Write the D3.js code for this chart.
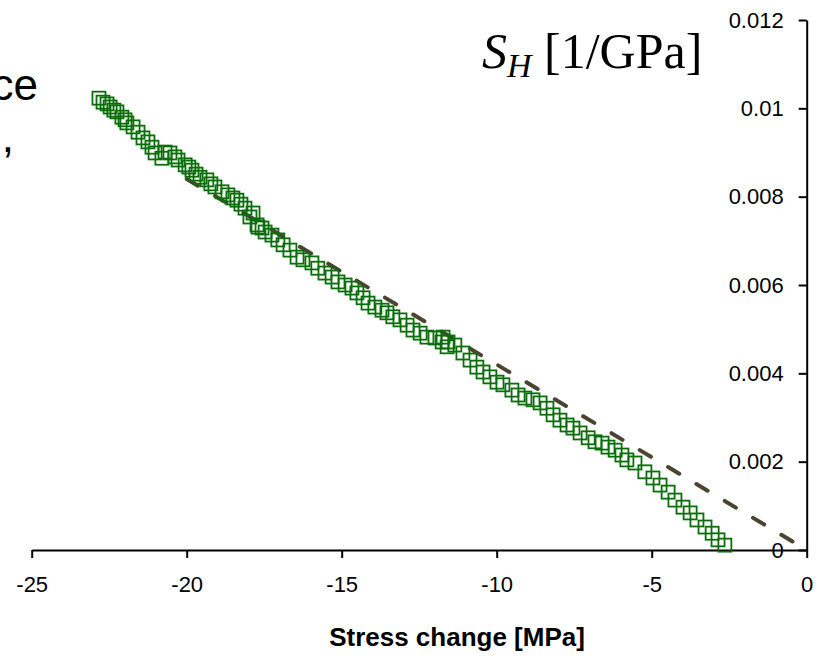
<!DOCTYPE html>
<html>
<head>
<meta charset="utf-8">
<script src="https://cdn.jsdelivr.net/npm/d3@7"></script>
<style>
  body { margin: 0; background: #fff; }
  svg { display: block; }
  .tick text { font-family: "Liberation Sans", Arial, sans-serif; fill: #000; }
</style>
</head>
<body>
<div id="chart"></div>
<script>
var svgWidth = 818;
var svgHeight = 659;

// stress change [MPa] and S_H [1/GPa]
var stressChange = [
  -22.83, -22.70, -22.57, -22.47, -22.35, -22.25, -22.09, -21.99, -21.93, -21.73,
  -21.57, -21.41, -21.25, -21.12, -21.02, -20.80, -20.70, -20.54, -20.38, -20.28,
  -20.05, -19.93, -19.83, -19.70, -19.57, -19.35, -19.22, -19.09, -18.86, -18.67,
  -18.51, -18.38, -18.25, -18.12, -17.96, -17.86, -17.73, -17.70, -17.57, -17.47,
  -17.25, -17.06, -16.89, -16.67, -16.44, -16.25, -15.96, -15.77, -15.54, -15.31,
  -15.12, -14.89, -14.67, -14.51, -14.31, -14.15, -13.93, -13.70, -13.54, -13.35,
  -13.12, -12.89, -12.70, -12.47, -12.25, -11.99, -11.76, -11.73, -11.60, -11.57,
  -11.35, -11.09, -10.86, -10.64, -10.44, -10.22, -9.99, -9.80, -9.51, -9.31,
  -9.09, -8.83, -8.60, -8.38, -8.18, -7.96, -7.73, -7.54, -7.31, -7.05,
  -6.83, -6.60, -6.41, -6.18, -5.96, -5.80, -5.54, -5.22, -4.96, -4.73,
  -4.47, -4.25, -3.99, -3.76, -3.54, -3.28, -3.05, -2.86, -2.64
];
var shValues = [
  0.01023, 0.01014, 0.01010, 0.01003, 0.00996, 0.00992, 0.00980, 0.00974, 0.00967, 0.00958,
  0.00946, 0.00933, 0.00924, 0.00912, 0.00899, 0.00887, 0.00901, 0.00899, 0.00890, 0.00883,
  0.00872, 0.00867, 0.00860, 0.00851, 0.00844, 0.00838, 0.00829, 0.00822, 0.00811, 0.00804,
  0.00797, 0.00792, 0.00783, 0.00774, 0.00754, 0.00763, 0.00736, 0.00731, 0.00729, 0.00720,
  0.00713, 0.00702, 0.00691, 0.00679, 0.00663, 0.00657, 0.00650, 0.00638, 0.00627, 0.00618,
  0.00607, 0.00600, 0.00593, 0.00582, 0.00571, 0.00559, 0.00550, 0.00543, 0.00537, 0.00528,
  0.00521, 0.00509, 0.00498, 0.00491, 0.00482, 0.00480, 0.00471, 0.00482, 0.00460, 0.00471,
  0.00464, 0.00446, 0.00430, 0.00414, 0.00403, 0.00392, 0.00380, 0.00374, 0.00362, 0.00351,
  0.00344, 0.00340, 0.00333, 0.00321, 0.00306, 0.00294, 0.00283, 0.00276, 0.00265, 0.00254,
  0.00245, 0.00242, 0.00233, 0.00226, 0.00215, 0.00204, 0.00197, 0.00177, 0.00163, 0.00147,
  0.00131, 0.00113, 0.00097, 0.00084, 0.00068, 0.00052, 0.00038, 0.00023, 0.00011
];

// dashed linear fit
var fitX = [-20, 0];
var fitY = [0.0084, 0];

var xTickValues = [-25, -20, -15, -10, -5, 0];
var xTickLabels = ["-25", "-20", "-15", "-10", "-5", "0"];
var yTickValues = [0, 0.002, 0.004, 0.006, 0.008, 0.01, 0.012];
var yTickLabels = ["0", "0.002", "0.004", "0.006", "0.008", "0.01", "0.012"];

var svg = d3.select("#chart")
  .append("svg")
  .attr("width", svgWidth)
  .attr("height", svgHeight);

var x = d3.scaleLinear().domain([-25, 0]).range([31.7, 806.7]);
var y = d3.scaleLinear().domain([0, 0.012]).range([550, 20]);

// x axis
var xAxis = svg.append("g")
  .attr("transform", `translate(0, ${y(0)})`)
  .call(d3.axisBottom(x)
    .tickValues(xTickValues)
    .tickFormat((d, i) => xTickLabels[i])
    .tickSizeInner(8)
    .tickSizeOuter(0)
    .tickPadding(18));
xAxis.selectAll("path, line").attr("stroke", "#000").attr("stroke-width", 2);
xAxis.selectAll("text").attr("font-size", 22);

// y axis on the right edge, ticks pointing left
var yAxis = svg.append("g")
  .attr("transform", `translate(${x(0)}, 0)`)
  .call(d3.axisLeft(y)
    .tickValues(yTickValues)
    .tickFormat((d, i) => yTickLabels[i])
    .tickSizeInner(8)
    .tickSizeOuter(0)
    .tickPadding(15));
yAxis.selectAll("path, line").attr("stroke", "#000").attr("stroke-width", 2);
yAxis.selectAll("text").attr("font-size", 22);

// fit line
var fitData = fitX.map((d, i) => [d, fitY[i]]);
svg.append("path")
  .datum(fitData)
  .attr("d", d3.line().x(d => x(d[0])).y(d => y(d[1])))
  .attr("fill", "none")
  .attr("stroke", "#4a4430")
  .attr("stroke-width", 4)
  .attr("stroke-linecap", "round")
  .attr("stroke-dasharray", "13,20");

// square markers
var pts = stressChange.map((d, i) => [d, shValues[i]]);
var sq = 13;
svg.append("g").selectAll("rect")
  .data(pts)
  .enter()
  .append("rect")
  .attr("x", d => x(d[0]) - sq / 2)
  .attr("y", d => y(d[1]) - sq / 2)
  .attr("width", sq)
  .attr("height", sq)
  .attr("fill", "none")
  .attr("stroke", "#0a6e0a")
  .attr("stroke-width", 1.8);

// axis title
svg.append("text")
  .attr("x", 457)
  .attr("y", 646)
  .attr("text-anchor", "middle")
  .attr("font-family", "Liberation Sans, Arial, sans-serif")
  .attr("font-weight", "bold")
  .attr("font-size", 26)
  .text("Stress change [MPa]");

// y label S_H [1/GPa]
var yLabel = svg.append("text")
  .attr("x", 482)
  .attr("y", 68)
  .attr("font-family", "Liberation Serif, Times New Roman, serif")
  .attr("font-size", 50);
yLabel.append("tspan").attr("font-style", "italic").text("S");
yLabel.append("tspan").attr("font-style", "italic").attr("font-size", 34).attr("dy", 9).text("H");
yLabel.append("tspan").attr("dy", -9).text(" [1/GPa]");

// text cut off at the left edge of the figure
svg.append("text")
  .attr("x", 38)
  .attr("y", 100)
  .attr("text-anchor", "end")
  .attr("font-family", "Liberation Sans, Arial, sans-serif")
  .attr("font-size", 44)
  .text("ce");
svg.append("text")
  .attr("x", 14)
  .attr("y", 152)
  .attr("text-anchor", "end")
  .attr("font-family", "Liberation Sans, Arial, sans-serif")
  .attr("font-size", 44)
  .text(",");
</script>
</body>
</html>
